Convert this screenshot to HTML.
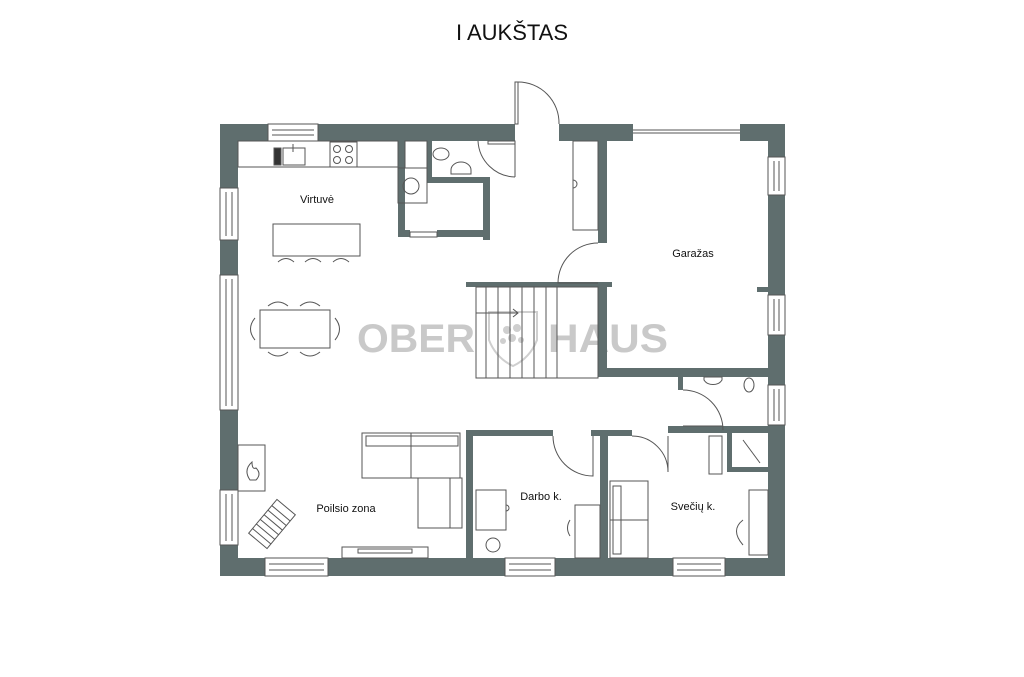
<!DOCTYPE html>
<html><head><meta charset="utf-8"><style>
html,body{margin:0;padding:0;background:#fff;}
svg{display:block;}
text{font-family:"Liberation Sans",sans-serif;}
</style></head><body>
<svg width="1024" height="677" viewBox="0 0 1024 677" xmlns="http://www.w3.org/2000/svg">
<rect width="1024" height="677" fill="#fff"/>
<text x="512" y="40" font-size="22" text-anchor="middle" fill="#111">I AUKŠTAS</text>

<!-- watermark -->
<g fill="#c9c9c9" font-weight="bold" font-size="40">
<text x="357" y="352" textLength="118" lengthAdjust="spacingAndGlyphs">OBER</text>
<text x="548" y="352" textLength="120" lengthAdjust="spacingAndGlyphs">HAUS</text>
</g>
<path d="M489 312 L537 312 L537 340 Q530 358 513 366 Q496 358 489 340 Z" fill="none" stroke="#cfcfcf" stroke-width="2"/>
<g fill="#cfcfcf"><circle cx="507" cy="330" r="4"/><circle cx="517" cy="328" r="4"/><circle cx="512" cy="338" r="4"/><circle cx="503" cy="341" r="3"/><circle cx="521" cy="340" r="3"/></g>

<g fill="#5f6e6e">
<!-- outer walls -->
<rect x="220" y="124" width="48" height="17"/>
<rect x="318" y="124" width="197" height="17"/>
<rect x="559" y="124" width="74" height="17"/>
<rect x="740" y="124" width="45" height="17"/>
<rect x="220" y="124" width="18" height="64"/>
<rect x="220" y="240" width="18" height="35"/>
<rect x="220" y="410" width="18" height="80"/>
<rect x="220" y="545" width="18" height="31"/>
<rect x="768" y="124" width="17" height="33"/>
<rect x="768" y="195" width="17" height="100"/>
<rect x="768" y="335" width="17" height="50"/>
<rect x="768" y="425" width="17" height="151"/>
<rect x="220" y="558" width="45" height="18"/>
<rect x="328" y="558" width="177" height="18"/>
<rect x="555" y="558" width="118" height="18"/>
<rect x="725" y="558" width="60" height="18"/>
<!-- kitchen closet / WC -->
<rect x="398" y="141" width="7" height="96"/>
<rect x="398" y="230" width="12" height="7"/>
<rect x="437" y="230" width="53" height="7"/>
<rect x="483" y="177" width="7" height="63"/>
<rect x="427" y="141" width="5" height="42"/>
<rect x="427" y="177" width="63" height="6"/>
<!-- garage left wall -->
<rect x="598" y="141" width="9" height="102"/>
<rect x="598" y="283" width="9" height="94"/>
<rect x="466" y="282" width="146" height="5"/>
<rect x="598" y="368" width="187" height="9"/>
<rect x="757" y="287" width="11" height="5"/>
<!-- bath -->
<rect x="678" y="377" width="5" height="13"/>
<rect x="668" y="426" width="100" height="7"/>
<rect x="727" y="426" width="5" height="46"/>
<rect x="727" y="467" width="41" height="5"/>
<!-- rooms -->
<rect x="466" y="430" width="87" height="6"/>
<rect x="466" y="430" width="7" height="128"/>
<rect x="591" y="430" width="41" height="6"/>
<rect x="600" y="430" width="8" height="128"/>
</g>

<g fill="none" stroke="#555" stroke-width="1">
<!-- windows -->
<rect x="268" y="124" width="50" height="17"/><line x1="272" y1="130" x2="314" y2="130"/><line x1="272" y1="135" x2="314" y2="135"/>
<rect x="220" y="188" width="18" height="52"/><line x1="226" y1="192" x2="226" y2="236"/><line x1="232" y1="192" x2="232" y2="236"/>
<rect x="220" y="275" width="18" height="135"/><line x1="226" y1="279" x2="226" y2="406"/><line x1="232" y1="279" x2="232" y2="406"/>
<rect x="220" y="490" width="18" height="55"/><line x1="226" y1="494" x2="226" y2="541"/><line x1="232" y1="494" x2="232" y2="541"/>
<rect x="768" y="157" width="17" height="38"/><line x1="774" y1="161" x2="774" y2="191"/><line x1="779" y1="161" x2="779" y2="191"/>
<rect x="768" y="295" width="17" height="40"/><line x1="774" y1="299" x2="774" y2="331"/><line x1="779" y1="299" x2="779" y2="331"/>
<rect x="768" y="385" width="17" height="40"/><line x1="774" y1="389" x2="774" y2="421"/><line x1="779" y1="389" x2="779" y2="421"/>
<rect x="265" y="558" width="63" height="18"/><line x1="269" y1="564" x2="324" y2="564"/><line x1="269" y1="570" x2="324" y2="570"/>
<rect x="505" y="558" width="50" height="18"/><line x1="509" y1="564" x2="551" y2="564"/><line x1="509" y1="570" x2="551" y2="570"/>
<rect x="673" y="558" width="52" height="18"/><line x1="677" y1="564" x2="721" y2="564"/><line x1="677" y1="570" x2="721" y2="570"/>
<rect x="410" y="232" width="27" height="5"/>
<line x1="633" y1="130" x2="740" y2="130"/><line x1="633" y1="133" x2="740" y2="133"/>
<!-- doors -->
<rect x="515" y="82" width="3" height="42"/>
<path d="M518 82 A41 41 0 0 1 559 124"/>
<path d="M515 141 L515 177 M515 177 A38 38 0 0 1 478 141"/>
<rect x="488" y="141" width="27" height="3"/>
<path d="M598 243 A40 40 0 0 0 558 283 L598 283"/>
<path d="M683 390 A40 40 0 0 1 723 430"/><path d="M683 426 L723 426"/>
<path d="M553 436 A40 40 0 0 0 593 476 L593 436"/>
<path d="M632 436 A36 36 0 0 1 668 472 L668 436"/>
<!-- kitchen -->
<rect x="238" y="141" width="160" height="26"/>
<rect x="283" y="148" width="22" height="17"/><rect x="274" y="148" width="7" height="17" fill="#333"/>
<line x1="293" y1="144" x2="293" y2="152"/>
<rect x="330" y="142" width="27" height="25"/>
<circle cx="337" cy="149" r="3.5"/><circle cx="349" cy="149" r="3.5"/><circle cx="337" cy="160" r="3.5"/><circle cx="349" cy="160" r="3.5"/>
<rect x="405" y="141" width="22" height="27"/><rect x="398" y="168" width="29" height="35"/>
<circle cx="411" cy="186" r="8"/>
<rect x="273" y="224" width="87" height="32"/>
<path d="M278 262 Q286 255 294 262 M305 262 Q313 255 321 262 M333 262 Q341 255 349 262"/>
<rect x="260" y="310" width="70" height="38"/>
<path d="M268 306 Q278 298 288 306 M300 306 Q310 298 320 306 M268 352 Q278 360 288 352 M300 352 Q310 360 320 352 M255 318 Q246 329 255 340 M335 318 Q344 329 335 340"/>
<!-- WC -->
<ellipse cx="441" cy="154" rx="8" ry="6"/><path d="M451 170 A10 8 0 0 1 471 170 L471 174 L451 174 Z"/>
<!-- hall closet -->
<rect x="573" y="141" width="25" height="89"/><path d="M573 180 A4 4 0 0 1 573 188"/>
<!-- stairs -->
<rect x="476" y="287" width="122" height="91"/>
<path d="M486 287V378 M498 287V378 M510 287V378 M522 287V378 M534 287V378 M546 287V378 M557 287V378"/>
<path d="M476 313 L518 313 M513 309 L518 313 L513 317"/>
<!-- bath fixtures -->
<path d="M704 380 A10 8 0 0 0 722 380 L722 377 L704 377 Z"/><ellipse cx="749" cy="385" rx="5" ry="7"/>
<path d="M743 440 L760 463"/><rect x="709" y="436" width="13" height="38"/>
<!-- living -->
<rect x="238" y="445" width="27" height="46"/>
<path d="M250 480 Q243 470 252 462 Q252 470 256 468 Q262 474 256 480 Z"/>
<rect x="362" y="433" width="98" height="45"/><line x1="411" y1="433" x2="411" y2="478"/><rect x="366" y="436" width="92" height="10"/>
<rect x="418" y="478" width="44" height="50"/><line x1="450" y1="478" x2="450" y2="528"/>
<g transform="rotate(-50 272 524)"><rect x="250" y="512" width="44" height="24"/><path d="M256 512V536 M262 512V536 M268 512V536 M274 512V536 M280 512V536 M286 512V536"/></g>
<rect x="342" y="547" width="86" height="11"/><rect x="358" y="549" width="54" height="4"/>
<!-- darbo -->
<rect x="476" y="490" width="30" height="40"/><path d="M506 505 A3 3 0 0 1 506 511"/>
<rect x="575" y="505" width="25" height="53"/><path d="M570 520 Q565 528 570 536"/>
<circle cx="493" cy="545" r="7"/>
<!-- svečių -->
<rect x="610" y="481" width="38" height="77"/><rect x="613" y="486" width="8" height="68"/><line x1="610" y1="520" x2="648" y2="520"/>
<rect x="749" y="490" width="19" height="65"/><path d="M743 520 Q730 530 743 545"/>
</g>

<g font-size="11" fill="#111">
<text x="317" y="203" text-anchor="middle">Virtuvė</text>
<text x="693" y="257" text-anchor="middle">Garažas</text>
<text x="346" y="512" text-anchor="middle">Poilsio zona</text>
<text x="541" y="500" text-anchor="middle">Darbo k.</text>
<text x="693" y="510" text-anchor="middle">Svečių k.</text>
</g>
</svg>
</body></html>
